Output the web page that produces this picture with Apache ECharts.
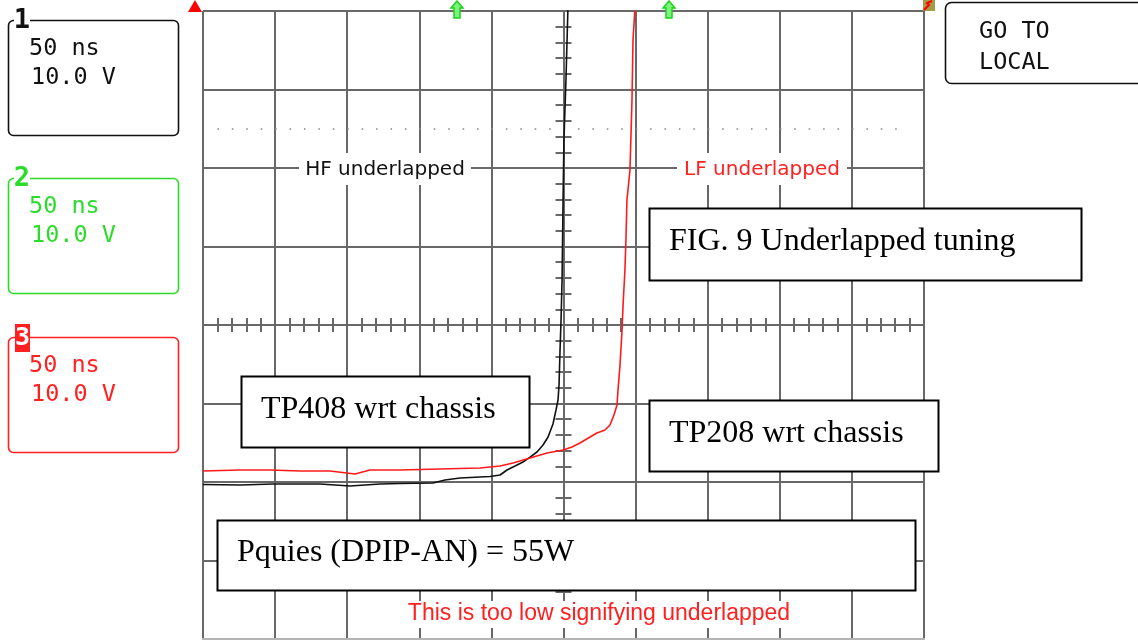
<!DOCTYPE html>
<html>
<head>
<meta charset="utf-8">
<script src="https://cdn.jsdelivr.net/npm/echarts@6/dist/echarts.min.js"></script>
<style>
  html, body { margin: 0; padding: 0; background: #fff; }
  #chart { width: 1138px; height: 640px; }
</style>
</head>
<body>
<div id="chart"></div>
<script>
// ---- data (time in ns, 50 ns/div; voltage in V, 10 V/div) ----
const tp408Time  = [-250, -224.3, -201.5, -168.9, -148.1, -127.3, -113.4, -90.5, -82.2, -71.7, -51.0, -44.0, -39.2, -33.6, -28.1, -23.2, -18.4, -14.2, -10.7, -7.3, -5.2, -3.8, -3.1, -2.4, -1.7, -1.0, -0.3, 0.3, 1.7, 3.1];
const tp408Volts = [-20.32, -20.38, -20.26, -20.26, -20.51, -20.26, -20.19, -20.13, -19.75, -19.49, -19.30, -19.11, -18.47, -17.96, -17.45, -16.82, -16.18, -15.29, -14.27, -12.61, -10.83, -9.55, -7.64, -3.18, 0.64, 5.73, 15.92, 23.57, 31.21, 40.5];

const tp208Time  = [-250, -224.3, -203.5, -182.7, -161.9, -144.6, -134.2, -113.4, -85.7, -57.9, -44.0, -35.0, -23.2, -11.4, -0.3, 5.9, 11.4, 18.4, 23.2, 28.8, 32.2, 35.0, 37.1, 37.8, 39.2, 40.6, 41.3, 42.6, 43.3, 44.0, 46.1, 47.5, 48.2, 49.6];
const tp208Volts = [-18.60, -18.47, -18.47, -18.60, -18.60, -18.98, -18.47, -18.47, -18.34, -18.22, -17.96, -17.58, -16.94, -16.31, -15.92, -15.54, -15.03, -14.27, -13.76, -13.38, -12.74, -11.47, -10.19, -8.28, -5.10, -0.64, 2.55, 7.01, 10.83, 15.92, 19.75, 28.66, 36.31, 40.5];

const timeRange = [-250, 250];      // 10 divisions of 50 ns
const voltRange = [-40, 40];        // 8 divisions of 10 V
const dottedLevel = 25;             // dotted reference line
const dottedSpan = [-240, 240];

const channelLabels = [
  { num: '1', timebase: '50 ns', scale: '10.0 V' },
  { num: '2', timebase: '50 ns', scale: '10.0 V' },
  { num: '3', timebase: '50 ns', scale: '10.0 V' }
];
const hfLabel = 'HF underlapped';
const lfLabel = 'LF underlapped';
const bottomNote = 'This is too low signifying underlapped';
const figTitle = 'FIG. 9 Underlapped tuning';
const tp408Label = 'TP408 wrt chassis';
const tp208Label = 'TP208 wrt chassis';
const pquiesLabel = 'Pquies (DPIP-AN) = 55W';
const localLines = ['GO TO', 'LOCAL'];

// ---- build ----
const zip = (a, b) => a.map((v, i) => [v, b[i]]);
const GRID = '#686868';
const MONO = '"DejaVu Sans Mono", "Liberation Mono", monospace';
const SERIF = '"Liberation Serif", "Times New Roman", serif';
const GREEN = '#2bdc2b';
const RED = '#ff2020';

function xAx(pos, split) {
  return {
    type: 'value', position: pos, min: timeRange[0], max: timeRange[1], interval: 50,
    axisLine: { show: true, onZero: true, lineStyle: { color: GRID, width: 2 } },
    axisTick: { show: true, length: 7, lineStyle: { color: GRID, width: 2 } },
    minorTick: { show: true, splitNumber: 5, length: 7, lineStyle: { color: GRID, width: 2 } },
    axisLabel: { show: false },
    splitLine: { show: split, lineStyle: { color: GRID, width: 2 } }
  };
}
function yAx(pos, split) {
  return {
    type: 'value', position: pos, min: voltRange[0], max: voltRange[1], interval: 10,
    axisLine: { show: true, onZero: true, lineStyle: { color: GRID, width: 2 } },
    axisTick: { show: true, length: 8, lineStyle: { color: GRID, width: 2 } },
    minorTick: { show: true, splitNumber: 5, length: 8, lineStyle: { color: GRID, width: 2 } },
    axisLabel: { show: false },
    splitLine: { show: split, lineStyle: { color: GRID, width: 2 } }
  };
}

function chanBox(i, y, color) {
  const c = channelLabels[i];
  const els = [
    { type: 'rect', z: 100, shape: { x: 8.5, y: y + 0.5, width: 170, height: 115, r: 5 },
      style: { fill: '#fff', stroke: color, lineWidth: 1.6 } },
    { type: 'text', z: 101, style: { x: 29, y: y + 29, text: c.timebase, fill: color,
      fontSize: 23.5, fontFamily: MONO, textVerticalAlign: 'middle' } },
    { type: 'text', z: 101, style: { x: 31, y: y + 58, text: c.scale, fill: color,
      fontSize: 23.5, fontFamily: MONO, textVerticalAlign: 'middle' } }
  ];
  if (i === 2) {
    els.push({ type: 'rect', z: 102, shape: { x: 15, y: y - 13, width: 15, height: 28 }, style: { fill: color } });
    els.push({ type: 'text', z: 103, style: { x: 22.5, y: y + 1, text: c.num, fill: '#fff',
      fontSize: 25, fontWeight: 'bold', fontFamily: MONO, textAlign: 'center', textVerticalAlign: 'middle' } });
  } else {
    els.push({ type: 'rect', z: 102, shape: { x: 14, y: y - 12, width: 16, height: 24 }, style: { fill: '#fff' } });
    els.push({ type: 'text', z: 103, style: { x: 22, y: y + 1, text: c.num, fill: color,
      fontSize: 27, fontWeight: 'bold', fontFamily: MONO, textAlign: 'center', textVerticalAlign: 'middle' } });
  }
  return els;
}

function noteBox(x, y, w, h, text) {
  return [
    { type: 'rect', z: 100, shape: { x: x + 0.5, y: y + 0.5, width: w, height: h },
      style: { fill: '#fff', stroke: '#000', lineWidth: 2 } },
    { type: 'text', z: 101, style: { x: x + 20, y: y + h / 2 - 2, text: text, fill: '#000',
      fontSize: 32, fontFamily: SERIF, textVerticalAlign: 'middle' } }
  ];
}

function arrow(cx) {
  return { type: 'polygon', z: 100,
    shape: { points: [[cx, 1], [cx + 6, 8], [cx + 3, 8], [cx + 3, 18], [cx - 3, 18], [cx - 3, 8], [cx - 6, 8]] },
    style: { fill: '#7df27d', stroke: '#19d419', lineWidth: 1.5 } };
}

const graphics = [].concat(
  chanBox(0, 20, '#111'),
  chanBox(1, 178, GREEN),
  chanBox(2, 337, RED),
  [
    // GO TO LOCAL softkey
    { type: 'rect', z: 100, shape: { x: 945.5, y: 2.5, width: 230, height: 81, r: 6 },
      style: { fill: '#fff', stroke: '#111', lineWidth: 1.6 } },
    { type: 'text', z: 101, style: { x: 979, y: 32, text: localLines[0], fill: '#111', fontSize: 23.5, fontFamily: MONO, textVerticalAlign: 'middle' } },
    { type: 'text', z: 101, style: { x: 979, y: 63, text: localLines[1], fill: '#111', fontSize: 23.5, fontFamily: MONO, textVerticalAlign: 'middle' } },
    // top markers
    { type: 'polygon', z: 100, shape: { points: [[188, 12], [195, 0], [202, 12]] }, style: { fill: '#ff0000' } },
    arrow(457), arrow(669),
    { type: 'rect', z: 100, shape: { x: 923, y: 0, width: 12, height: 11 }, style: { fill: '#a39c45' } },
    { type: 'polyline', z: 101, shape: { points: [[924, 10], [929, 5], [927, 3], [932, 1]] }, style: { stroke: '#ff0000', lineWidth: 2, fill: null } },
    // lighter bottom edge of graticule
    { type: 'line', z: 50, shape: { x1: 202, y1: 639, x2: 925, y2: 639 }, style: { stroke: '#b4b4b4', lineWidth: 2 } },
    // trace labels on the graticule
    { type: 'rect', z: 100, shape: { x: 299, y: 153, width: 172, height: 32 }, style: { fill: '#fff' } },
    { type: 'text', z: 101, style: { x: 385, y: 170, text: hfLabel, fill: '#111', fontSize: 20, fontFamily: '"DejaVu Sans", sans-serif', textAlign: 'center', textVerticalAlign: 'middle' } },
    { type: 'rect', z: 100, shape: { x: 677, y: 153, width: 170, height: 32 }, style: { fill: '#fff' } },
    { type: 'text', z: 101, style: { x: 762, y: 170, text: lfLabel, fill: RED, fontSize: 20, fontFamily: '"DejaVu Sans", sans-serif', textAlign: 'center', textVerticalAlign: 'middle' } },
    { type: 'rect', z: 100, shape: { x: 402, y: 601, width: 394, height: 27 }, style: { fill: '#fff' } },
    { type: 'text', z: 101, style: { x: 599, y: 614, text: bottomNote, fill: RED, fontSize: 23, fontFamily: '"Liberation Sans", Arial, sans-serif', textAlign: 'center', textVerticalAlign: 'middle' } }
  ],
  noteBox(649, 208, 432, 72, figTitle),
  noteBox(241, 376, 288, 71, tp408Label),
  noteBox(649, 400, 289, 71, tp208Label),
  noteBox(217, 520, 698, 70, pquiesLabel)
);

const chart = echarts.init(document.getElementById('chart'), null, { renderer: 'canvas' });
chart.setOption({
  animation: false,
  backgroundColor: '#fff',
  grid: { left: 203, top: 11, width: 721, height: 628, containLabel: false, outerBoundsMode: 'none', show: false },
  xAxis: [xAx('bottom', true), xAx('top', false)],
  yAxis: [yAx('left', true), yAx('right', false)],
  series: [
    { name: 'TP408', type: 'line', xAxisIndex: 0, yAxisIndex: 0, data: zip(tp408Time, tp408Volts),
      showSymbol: false, symbol: 'none', lineStyle: { color: '#111', width: 1.6 }, z: 5,
      markLine: { silent: true, symbol: ['none', 'none'], label: { show: false },
        lineStyle: { color: '#8a8a8a', width: 1.6, type: [1.6, 12.82] },
        data: [[{ coord: [dottedSpan[0], dottedLevel] }, { coord: [dottedSpan[1], dottedLevel] }]] } },
    { name: 'TP208', type: 'line', xAxisIndex: 0, yAxisIndex: 0, data: zip(tp208Time, tp208Volts),
      showSymbol: false, symbol: 'none', lineStyle: { color: '#ff1a1a', width: 1.6 }, z: 6 }
  ],
  graphic: graphics
});
</script>
</body>
</html>
